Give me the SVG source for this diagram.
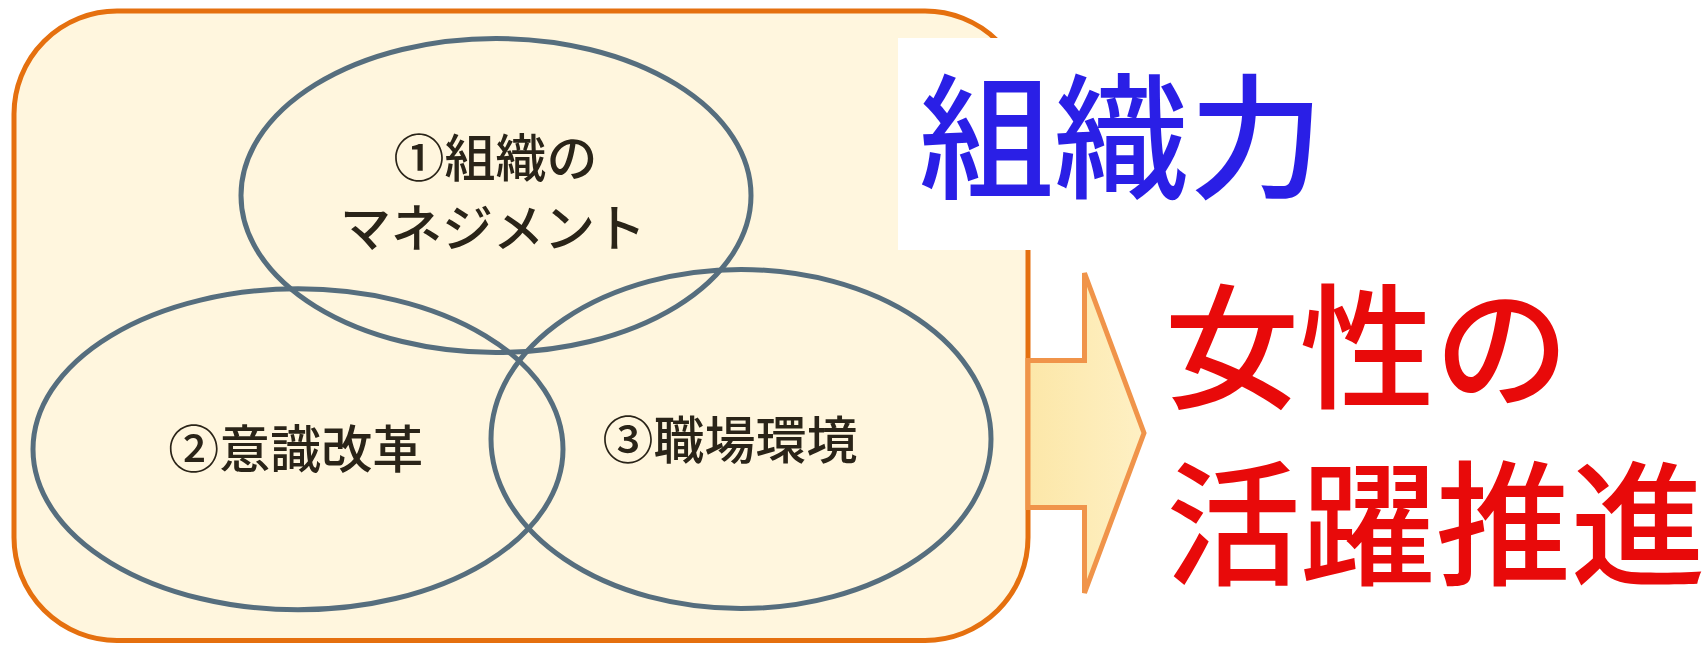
<svg xmlns="http://www.w3.org/2000/svg" width="1708" height="645" viewBox="0 0 1708 645">
  <style>
    .ell { fill: none; stroke: #566E7E; stroke-width: 5; }
    .lbl { font-family: "Noto Sans CJK JP", "Noto Sans", sans-serif; font-size: 51px; font-weight: 500; fill: #2A2418; text-anchor: middle; }
    .big { font-family: "Noto Sans CJK JP", "Noto Sans", sans-serif; font-size: 135px; font-weight: 500; text-anchor: middle; }
  </style>
  <defs>
    <linearGradient id="arrowFill" x1="0" y1="0" x2="1" y2="0">
      <stop offset="0" stop-color="#FCE7A8"/>
      <stop offset="1" stop-color="#FEF0C4"/>
    </linearGradient>
  </defs>
  <rect width="1708" height="645" fill="#FFFFFF"/>
  <g id="frame">
    <rect x="14" y="11" width="1014" height="629.5" rx="103" ry="103" fill="#FFF6DE" stroke="#E5700F" stroke-width="5"/>
  </g>
  <g id="connectors">
    <path d="M1028,360.5 H1084.5 V273 L1144,433 L1084.5,593 V507.5 H1028 Z" fill="url(#arrowFill)" stroke="#F0944A" stroke-width="5" stroke-linejoin="miter"/>
  </g>
  <g id="node-management">
    <ellipse class="ell" cx="496" cy="195.5" rx="255" ry="157"/>
    <text class="lbl" x="495.5" y="177">①組織の</text>
    <text class="lbl" x="493" y="247">マネジメント</text>
  </g>
  <g id="node-ishiki">
    <ellipse class="ell" cx="298" cy="449.3" rx="265" ry="160.5"/>
    <text class="lbl" x="295.7" y="468">②意識改革</text>
  </g>
  <g id="node-shokuba">
    <ellipse class="ell" cx="741" cy="439" rx="250" ry="169.5"/>
    <text class="lbl" x="730" y="459">③職場環境</text>
  </g>
  <g id="node-soshikiryoku">
    <rect x="898" y="38" width="200" height="212" fill="#FFFFFF"/>
    <text class="big" x="1121.6" y="188" fill="#2A1FE6">組織力</text>
  </g>
  <g id="node-josei">
    <text class="big" x="1367" y="398" fill="#E80A0A">女性の</text>
    <text class="big" x="1435.7" y="575" fill="#E80A0A">活躍推進</text>
  </g>
</svg>
